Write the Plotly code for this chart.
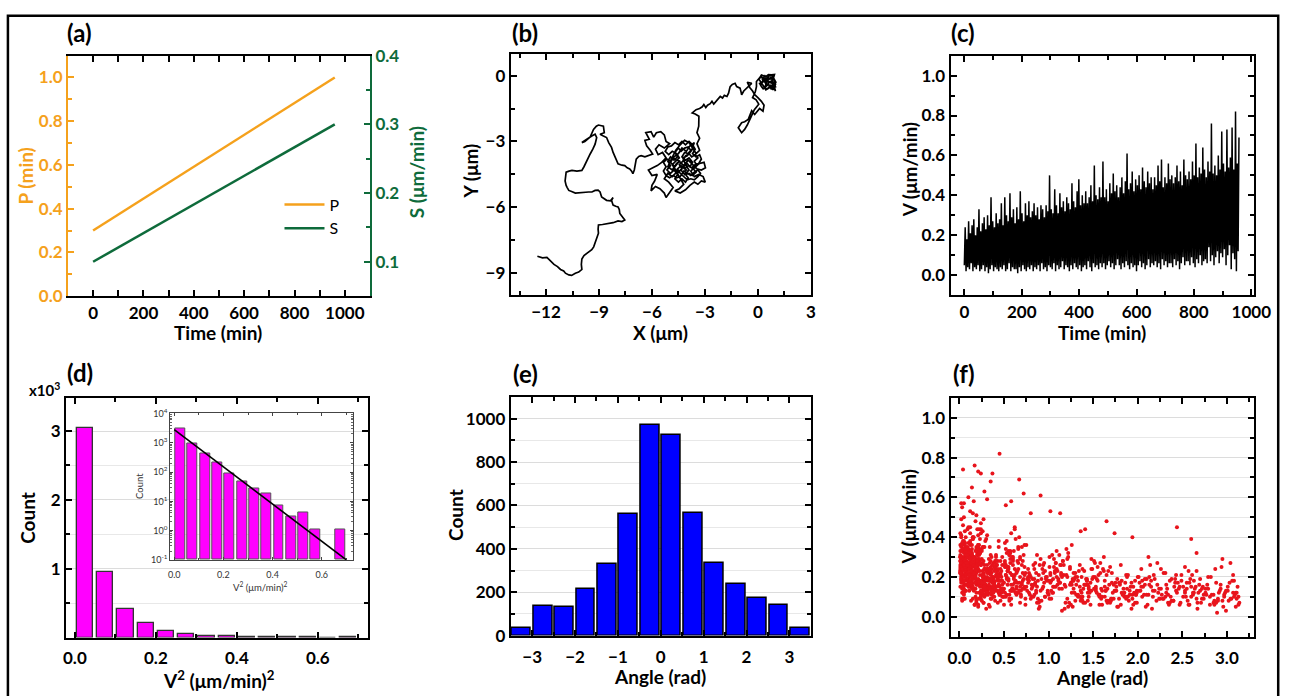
import plotly.graph_objects as go

W, H = 1309, 696
FONT = "Lato"
ORANGE = "#F5A11C"
GREEN = "#0E6B3B"

# ---------------- (a) ----------------
time_a = [0, 960]
P_vals = [0.30, 1.00]
S_vals = [0.10, 0.30]

# ---------------- (b) trajectory (x, y) in um ----------------
traj_left = [
    (-12.49, -8.23), (-12.2, -8.3), (-11.95, -8.28), (-11.83, -8.38), (-11.7, -8.45), (-11.55, -8.6),
    (-11.35, -8.7), (-11.18, -8.83), (-11.0, -8.9), (-10.9, -9.0), (-10.71, -9.08), (-10.55, -9.1),
    (-10.34, -9.0), (-10.15, -8.95), (-9.97, -8.83), (-10.0, -8.6), (-9.97, -8.35), (-9.85, -8.2),
    (-9.69, -8.1), (-9.41, -7.93), (-9.3, -7.8), (-9.22, -7.63), (-9.1, -7.4), (-9.03, -7.18),
    (-9.05, -7.0), (-9.03, -6.8), (-8.8, -6.78), (-8.47, -6.73), (-8.2, -6.7), (-7.92, -6.62),
    (-7.7, -6.65), (-7.54, -6.58), (-7.65, -6.45), (-7.82, -6.28), (-7.85, -6.1), (-7.92, -5.98),
    (-8.05, -5.95), (-8.2, -5.9), (-8.29, -5.68), (-8.2, -5.55), (-8.35, -5.7), (-8.57, -5.68),
    (-8.75, -5.6), (-8.85, -5.53), (-8.94, -5.3), (-9.05, -5.22), (-9.22, -5.23), (-9.4, -5.3),
    (-9.59, -5.3), (-9.9, -5.32), (-10.1, -5.35), (-10.34, -5.35), (-10.55, -5.28), (-10.71, -5.23),
    (-10.8, -5.1), (-10.86, -5.0), (-10.92, -4.8), (-10.9, -4.62), (-10.86, -4.4), (-10.7, -4.35),
    (-10.53, -4.32), (-10.25, -4.35), (-9.97, -4.32), (-9.85, -4.15), (-9.78, -4.02), (-9.65, -3.8),
    (-9.5, -3.57), (-9.35, -3.35), (-9.22, -3.12), (-9.13, -2.82), (-9.22, -2.67), (-9.41, -2.75),
    (-9.6, -2.85), (-9.78, -2.97), (-9.97, -3.05), (-9.8, -3.0), (-9.5, -2.8), (-9.31, -2.45),
    (-9.15, -2.3), (-9.03, -2.25), (-8.75, -2.3), (-8.7, -2.6), (-8.94, -2.67), (-8.75, -2.75),
    (-8.57, -2.82), (-8.45, -3.05), (-8.29, -3.27), (-8.2, -3.5), (-8.1, -3.72), (-8.0, -3.9),
    (-7.92, -4.02), (-7.7, -4.08), (-7.54, -4.1), (-7.4, -4.2), (-7.26, -4.25), (-7.15, -4.35),
    (-7.08, -4.47), (-7.0, -4.3), (-6.98, -4.17), (-6.93, -3.95), (-6.89, -3.8), (-6.75, -3.68),
    (-6.61, -3.65), (-6.4, -3.7), (-6.24, -3.65), (-5.96, -3.57),
]
traj_cluster = [
    (-6.1, -3.4), (-6.3, -3.2), (-6.4, -2.95), (-6.15, -2.9), (-6.35, -2.6), (-6.05, -2.55),
    (-5.9, -2.8), (-5.75, -2.6), (-5.5, -2.55), (-5.3, -2.7), (-5.2, -3.0), (-5.0, -3.1),
    (-5.3, -3.3), (-5.6, -3.15), (-5.8, -3.35), (-5.65, -3.6), (-5.4, -3.5), (-5.2, -3.75),
    (-5.45, -3.95), (-5.7, -4.1), (-5.95, -4.2), (-6.2, -4.3), (-6.0, -4.55), (-5.7, -4.5),
    (-5.85, -4.8), (-6.0, -5.0), (-6.05, -5.25), (-5.8, -5.05), (-5.55, -5.15), (-5.3, -5.35),
    (-5.2, -5.55), (-5.0, -5.3), (-4.8, -5.1), (-5.05, -4.85), (-5.3, -4.7), (-5.1, -4.45),
    (-4.85, -4.6), (-4.6, -4.4), (-4.4, -4.7), (-4.2, -4.95), (-4.45, -5.15), (-4.7, -5.25),
    (-4.4, -5.35), (-4.1, -5.2), (-3.85, -5.0), (-3.6, -4.85), (-3.4, -4.95), (-3.2, -4.8),
    (-2.98, -4.85), (-3.1, -4.6), (-3.35, -4.5), (-3.6, -4.6), (-3.8, -4.35), (-3.55, -4.15),
    (-3.3, -4.0), (-3.05, -3.95), (-2.97, -4.2), (-3.2, -4.3), (-3.45, -4.25), (-3.7, -4.05),
    (-3.95, -3.85), (-4.2, -4.1), (-4.45, -3.9), (-4.7, -4.15), (-4.95, -3.95), (-4.75, -3.7),
    (-4.5, -3.55), (-4.3, -3.3), (-4.05, -3.45), (-3.85, -3.2), (-3.6, -3.05), (-3.75, -3.4),
    (-4.0, -3.65), (-4.25, -3.75), (-4.1, -4.05), (-3.9, -4.3), (-4.15, -4.5), (-4.4, -4.25),
    (-4.25, -4.4), (-4.05, -4.3), (-4.2, -4.15), (-4.0, -4.0), (-3.85, -4.15), (-3.7, -3.95),
    (-3.9, -3.75), (-4.1, -3.85), (-4.3, -3.7), (-4.15, -3.5), (-3.95, -3.55), (-3.8, -3.4),
    (-3.95, -3.25), (-4.15, -3.3), (-4.35, -3.45), (-4.5, -3.3), (-4.7, -3.5), (-4.55, -3.7),
    (-4.75, -3.85), (-4.95, -3.7), (-5.1, -3.9), (-4.95, -4.1), (-5.15, -4.3), (-4.95, -4.45),
    (-4.75, -4.3), (-4.55, -4.5), (-4.7, -4.7), (-4.5, -4.85), (-4.3, -4.7), (-4.1, -4.85),
    (-3.95, -4.65), (-4.1, -4.5), (-3.9, -4.45), (-3.7, -4.55), (-3.5, -4.4), (-3.65, -4.25),
    (-3.45, -4.1), (-3.6, -3.9), (-3.4, -3.75), (-3.55, -3.6), (-3.75, -3.7), (-3.9, -3.55),
    (-4.1, -3.65), (-4.25, -3.9), (-4.45, -4.05), (-4.3, -4.25), (-4.5, -4.4), (-4.7, -4.25),
    (-4.85, -4.05), (-4.65, -3.9), (-4.45, -3.75), (-4.6, -3.55), (-4.85, -3.45), (-5.05, -3.6),
    (-5.25, -3.45), (-5.1, -3.25), (-4.9, -3.2), (-4.7, -3.05), (-4.5, -3.15), (-4.3, -3.0),
    (-4.1, -3.15), (-3.9, -3.0), (-3.7, -3.15), (-3.55, -3.35), (-3.7, -3.55), (-3.5, -3.7),
    (-3.3, -3.6), (-3.2, -3.8), (-3.35, -4.0), (-3.55, -4.05), (-3.75, -4.2), (-3.95, -4.1),
    (-4.15, -4.25), (-4.35, -4.1), (-4.55, -4.25), (-4.4, -4.45), (-4.2, -4.6), (-4.0, -4.75),
    (-3.8, -4.7), (-3.6, -4.75), (-3.4, -4.6), (-3.25, -4.45), (-3.4, -4.3), (-3.6, -4.4),
    (-3.8, -4.55), (-4.0, -4.45), (-4.2, -4.35), (-4.4, -4.6), (-4.6, -4.65), (-4.8, -4.55),
    (-5.0, -4.65), (-5.2, -4.55), (-5.35, -4.35), (-5.2, -4.15), (-5.35, -3.95), (-5.15, -3.8),
    (-4.95, -3.9), (-4.8, -3.75), (-4.6, -3.85), (-4.4, -3.9), (-4.6, -4.0), (-4.85, -4.3),
    (-5.1, -4.15), (-4.9, -3.8), (-4.65, -3.4), (-4.4, -3.15), (-4.15, -2.95), (-3.9, -3.05),
    (-3.7, -3.3), (-3.5, -3.55), (-3.3, -3.4), (-3.45, -3.1), (-3.3, -2.85), (-3.45, -2.6),
    (-3.35, -2.3),
]
traj_right = [
    (-3.34, -1.85), (-3.55, -1.75), (-3.72, -1.7), (-3.5, -1.55), (-3.3, -1.5), (-3.15, -1.42),
    (-3.06, -1.32), (-2.95, -1.45), (-2.85, -1.35), (-2.7, -1.28), (-2.6, -1.17), (-2.5, -1.3),
    (-2.4, -1.2), (-2.25, -1.05), (-2.13, -0.95), (-2.0, -1.02), (-1.9, -0.9), (-1.75, -0.95),
    (-1.66, -0.8), (-1.6, -0.6), (-1.57, -0.5), (-1.45, -0.4), (-1.29, -0.35), (-1.2, -0.5),
    (-1.01, -0.57), (-0.95, -0.75), (-0.92, -0.87), (-0.8, -0.7), (-0.64, -0.57), (-0.5, -0.45),
    (-0.35, -0.35), (-0.6, -0.3), (-0.45, -0.55), (-0.3, -0.7), (-0.18, -0.87), (0.0, -1.0),
    (0.2, -1.17), (0.35, -1.35), (0.29, -1.62), (0.1, -1.5), (-0.18, -1.77), (-0.35, -1.6),
    (-0.55, -2.0), (-0.75, -2.1), (-0.92, -2.15), (-1.11, -2.37), (-0.92, -2.6), (-0.75, -2.45),
    (-0.6, -2.25), (-0.4, -1.9), (-0.2, -1.55), (0.05, -1.3), (-0.1, -1.1), (-0.3, -1.0),
    (-0.15, -0.75), (-0.08, -0.5), (-0.08, -0.27), (0.1, -0.1), (0.2, 0.03), (0.45, -0.05),
    (0.6, 0.05), (0.76, 0.03), (0.94, 0.05), (0.85, -0.2), (0.94, -0.2), (1.0, -0.4),
    (0.85, -0.65), (0.7, -0.45), (0.55, -0.6), (0.38, -0.57), (0.5, -0.3), (0.3, -0.25),
    (0.15, -0.45), (0.35, -0.1), (0.6, -0.2), (0.75, -0.05), (0.95, -0.5), (1.0, -0.7),
    (0.9, -0.55), (0.8, -0.35), (0.65, -0.3), (0.5, -0.45), (0.4, -0.3), (0.25, -0.15),
    (0.4, 0.0), (0.55, -0.1), (0.7, -0.15), (0.85, -0.05), (0.95, -0.25), (0.8, -0.45),
    (0.65, -0.55), (0.45, -0.65), (0.3, -0.45), (0.15, -0.3), (0.05, -0.15), (0.2, -0.05),
    (0.35, -0.2), (0.5, -0.15), (0.65, 0.0), (0.8, 0.02), (0.9, -0.1), (1.02, -0.3),
    (0.9, -0.45), (0.75, -0.6), (0.6, -0.4), (0.45, -0.5), (0.3, -0.6), (0.2, -0.5),
    (0.1, -0.35), (0.25, -0.3), (0.45, -0.2), (0.6, -0.3), (0.75, -0.25), (0.9, -0.35),
    (1.02, -0.55),
]

# ---------------- (c) speed vs time: alternating local minima / maxima ----------------
c_step_min = 3
v_highs = [
    0.24, 0.18, 0.27, 0.21, 0.25, 0.28, 0.20, 0.24, 0.33, 0.22,
    0.26, 0.29, 0.23, 0.30, 0.25, 0.39, 0.27, 0.24, 0.31, 0.26,
    0.28, 0.36, 0.25, 0.39, 0.30, 0.27, 0.41, 0.29, 0.33, 0.26,
    0.34, 0.28, 0.42, 0.31, 0.27, 0.36, 0.30, 0.37, 0.29, 0.32,
    0.36, 0.30, 0.34, 0.28, 0.35, 0.33, 0.29, 0.35, 0.32, 0.50,
    0.33, 0.31, 0.43, 0.35, 0.31, 0.41, 0.34, 0.37, 0.32, 0.39,
    0.36, 0.33, 0.46, 0.37, 0.34, 0.42, 0.48, 0.35, 0.40, 0.36,
    0.42, 0.36, 0.39, 0.45, 0.37, 0.55, 0.40, 0.38, 0.44, 0.39,
    0.57, 0.39, 0.43, 0.37, 0.46, 0.41, 0.51, 0.42, 0.45, 0.39,
    0.44, 0.49, 0.41, 0.47, 0.61, 0.43, 0.46, 0.52, 0.42, 0.48,
    0.45, 0.50, 0.43, 0.54, 0.47, 0.44, 0.52, 0.46, 0.49, 0.43,
    0.49, 0.45, 0.55, 0.47, 0.58, 0.44, 0.49, 0.46, 0.56, 0.48,
    0.50, 0.46, 0.49, 0.55, 0.47, 0.52, 0.45, 0.58, 0.50, 0.48,
    0.52, 0.48, 0.57, 0.50, 0.66, 0.49, 0.54, 0.51, 0.64, 0.53,
    0.49, 0.57, 0.52, 0.76, 0.51, 0.55, 0.50, 0.60, 0.53, 0.72,
    0.56, 0.52, 0.73, 0.54, 0.59, 0.74, 0.53, 0.82, 0.56, 0.69,
]
v_lows = [
    0.05, 0.02, 0.04, 0.03, 0.06, 0.02, 0.04, 0.03, 0.05, 0.02,
    0.03, 0.05, 0.02, 0.04, 0.01, 0.03, 0.05, 0.02, 0.04, 0.03,
    0.02, 0.04, 0.03, 0.05, 0.02, 0.03, 0.06, 0.02, 0.04, 0.03,
    0.03, 0.01, 0.04, 0.02, 0.05, 0.03, 0.02, 0.04, 0.03, 0.05,
    0.02, 0.04, 0.03, 0.05, 0.02, 0.06, 0.03, 0.04, 0.02, 0.05,
    0.04, 0.03, 0.06, 0.02, 0.05, 0.03, 0.04, 0.07, 0.03, 0.05,
    0.04, 0.02, 0.05, 0.03, 0.06, 0.04, 0.03, 0.05, 0.02, 0.04,
    0.05, 0.03, 0.07, 0.04, 0.02, 0.06, 0.04, 0.05, 0.03, 0.06,
    0.04, 0.06, 0.03, 0.05, 0.07, 0.04, 0.06, 0.03, 0.05, 0.08,
    0.05, 0.03, 0.06, 0.04, 0.07, 0.05, 0.03, 0.06, 0.04, 0.05,
    0.02, 0.05, 0.07, 0.04, 0.06, 0.03, 0.05, 0.08, 0.04, 0.06,
    0.05, 0.07, 0.04, 0.06, 0.03, 0.08, 0.05, 0.07, 0.04, 0.06,
    0.06, 0.04, 0.08, 0.05, 0.07, 0.03, 0.06, 0.09, 0.05, 0.07,
    0.07, 0.05, 0.09, 0.06, 0.04, 0.08, 0.06, 0.10, 0.05, 0.07,
    0.08, 0.06, 0.14, 0.07, 0.10, 0.05, 0.09, 0.12, 0.06, 0.11,
    0.09, 0.13, 0.05, 0.10, 0.15, 0.03, 0.11, 0.08, 0.02, 0.12,
]

# ---------------- (d) V^2 histogram ----------------
v2_centers = [0.025, 0.075, 0.125, 0.175, 0.225, 0.275, 0.325, 0.375, 0.425, 0.475, 0.525, 0.575, 0.625, 0.675]
v2_counts = [3050, 950, 415, 205, 89, 46, 27, 18, 7, 3, 4, 1, 0, 1]
fit_x = [0.0, 0.70]
fit_y = [2800, 0.1]

# ---------------- (e) angle histogram ----------------
angle_centers = [-3.25, -2.75, -2.25, -1.75, -1.25, -0.75, -0.25, 0.25, 0.75, 1.25, 1.75, 2.25, 2.75, 3.25]
angle_counts = [35, 137, 133, 216, 330, 560, 972, 925, 567, 333, 240, 175, 143, 35]

# ---------------- (f) speed vs |angle| scatter ----------------
fA_x = [0.02,0.11,0.27,0.05,0.38,0.16,0.44,0.08,0.21,0.33, 0.03,0.19,0.47,0.12,0.29,0.06,0.36,0.24,0.14,0.41,
        0.01,0.09,0.31,0.18,0.49,0.04,0.26,0.13,0.39,0.22, 0.07,0.34,0.15,0.02,0.43,0.28,0.10,0.20,0.46,0.05,
        0.17,0.37,0.03,0.25,0.12,0.48,0.08,0.30,0.19,0.40, 0.01,0.23,0.14,0.35,0.06,0.42,0.27,0.09,0.32,0.18,
        0.04,0.45,0.21,0.13,0.38,0.02,0.26,0.16,0.50,0.07, 0.29,0.11,0.36,0.05,0.22,0.44,0.15,0.03,0.33,0.24,
        0.10,0.40,0.18,0.01,0.28,0.07,0.47,0.20,0.35,0.12, 0.03,0.25,0.39,0.14,0.06,0.31,0.21,0.43,0.09,0.17,
        0.02,0.34,0.12,0.27,0.46,0.05,0.19,0.37,0.08,0.23, 0.15,0.01,0.30,0.41,0.11,0.04,0.26,0.49,0.17,0.06,
        0.36,0.22,0.02,0.13,0.44,0.08,0.32,0.18,0.03,0.28, 0.10,0.39,0.05,0.24,0.15,0.47,0.01,0.20,0.34,0.12,
        0.07,0.29,0.42,0.03,0.16,0.37,0.23,0.09,0.45,0.02, 0.19,0.06,0.33,0.14,0.26,0.04,0.40,0.11,0.21,0.48,
        0.01,0.31,0.17,0.08,0.38,0.25,0.13,0.03,0.43,0.22, 0.05,0.35,0.10,0.28,0.02,0.46,0.18,0.07,0.30,0.14,
        0.24,0.04,0.41,0.12,0.20,0.06,0.36,0.27,0.01,0.16, 0.09,0.32,0.03,0.44,0.19,0.11,0.26,0.05,0.39,0.23,
        0.02,0.15,0.29,0.08,0.48,0.34,0.13,0.21,0.04,0.37, 0.18,0.06,0.42,0.25,0.01,0.10,0.31,0.45,0.14,0.03,
        0.27,0.07,0.19,0.35,0.12,0.02,0.40,0.22,0.09,0.30]
fA_v = [0.18,0.31,0.22,0.09,0.27,0.14,0.35,0.24,0.41,0.19, 0.27,0.12,0.20,0.38,0.16,0.29,0.11,0.47,0.23,0.30,
        0.15,0.44,0.26,0.21,0.13,0.33,0.18,0.08,0.25,0.36, 0.22,0.14,0.52,0.40,0.28,0.10,0.17,0.32,0.21,0.57,
        0.26,0.19,0.12,0.34,0.45,0.16,0.23,0.39,0.07,0.28, 0.31,0.21,0.16,0.12,0.37,0.26,0.49,0.19,0.15,0.24,
        0.46,0.18,0.29,0.24,0.10,0.20,0.35,0.58,0.14,0.13, 0.11,0.21,0.30,0.26,0.17,0.38,0.09,0.36,0.22,0.44,
        0.33,0.15,0.27,0.42,0.20,0.18,0.12,0.25,0.31,0.53, 0.08,0.29,0.17,0.14,0.24,0.41,0.36,0.23,0.19,0.06,
        0.35,0.27,0.22,0.13,0.28,0.50,0.16,0.20,0.31,0.15, 0.40,0.23,0.19,0.31,0.18,0.12,0.43,0.10,0.28,0.37,
        0.24,0.34,0.29,0.17,0.21,0.26,0.14,0.48,0.20,0.11, 0.19,0.27,0.38,0.09,0.30,0.23,0.25,0.16,0.35,0.42,
        0.13,0.18,0.26,0.55,0.20,0.12,0.32,0.27,0.15,0.22, 0.29,0.43,0.19,0.36,0.11,0.17,0.24,0.21,0.05,0.30,
        0.36,0.13,0.23,0.30,0.20,0.33,0.15,0.26,0.18,0.09, 0.12,0.25,0.34,0.18,0.49,0.22,0.28,0.40,0.14,0.31,
        0.17,0.21,0.28,0.26,0.44,0.16,0.13,0.35,0.23,0.20, 0.30,0.24,0.37,0.12,0.18,0.15,0.27,0.32,0.10,0.39,
        0.25,0.40,0.16,0.21,0.14,0.23,0.30,0.06,0.34,0.19, 0.14,0.28,0.22,0.17,0.33,0.45,0.20,0.13,0.26,0.24,
        0.21,0.16,0.51,0.28,0.36,0.19,0.25,0.12,0.30,0.04]
fA2_x = [0.06,0.14,0.23,0.31,0.04,0.19,0.27,0.10,0.35,0.01, 0.16,0.25,0.08,0.42,0.13,0.29,0.03,0.21,0.38,0.11,
         0.05,0.33,0.18,0.24,0.46,0.09,0.15,0.28,0.02,0.36, 0.20,0.07,0.41,0.12,0.26,0.32,0.04,0.17,0.44,0.22,
         0.10,0.30,0.01,0.37,0.14,0.06,0.25,0.48,0.19,0.03, 0.34,0.09,0.23,0.15,0.40,0.28,0.05,0.12,0.31,0.20,
         0.02,0.43,0.17,0.26,0.08,0.35,0.13,0.22,0.04,0.39, 0.29,0.11,0.18,0.06,0.45,0.24,0.01,0.33,0.15,0.27,
         0.09,0.37,0.21,0.03,0.14,0.30,0.07,0.42,0.19,0.25, 0.12,0.05,0.34,0.23,0.16,0.47,0.02,0.28,0.10,0.38,
         0.55,0.62,0.58,0.66,0.53,0.70,0.60,0.57,0.64,0.51, 0.68,0.56,0.61,0.54,0.73,0.59,0.52,0.65,0.57,0.63,
         0.04,0.13,0.22,0.08,0.30,0.17,0.01,0.26,0.11,0.36, 0.19,0.06,0.24,0.15,0.33,0.03,0.28,0.09,0.41,0.20,
         0.12,0.02,0.35,0.18,0.07,0.27,0.14,0.44,0.05,0.23, 0.31,0.10,0.16,0.01,0.39,0.21,0.08,0.29,0.13,0.04,
         0.25,0.18,0.06,0.34,0.11,0.22,0.03,0.15,0.37,0.09, 0.27,0.02,0.19,0.32,0.07,0.14,0.24,0.05,0.40,0.12,
         0.17,0.30,0.01,0.21,0.10,0.26,0.04,0.35,0.16,0.08, 0.23,0.13,0.43,0.06,0.28,0.19,0.02,0.11,0.33,0.20]
fA2_v = [0.21,0.17,0.28,0.13,0.34,0.24,0.19,0.30,0.15,0.22, 0.26,0.12,0.32,0.20,0.27,0.16,0.23,0.36,0.18,0.25,
         0.14,0.29,0.21,0.11,0.24,0.33,0.19,0.26,0.17,0.22, 0.31,0.20,0.15,0.27,0.23,0.18,0.38,0.25,0.16,0.29,
         0.19,0.24,0.28,0.13,0.32,0.21,0.17,0.26,0.35,0.14, 0.22,0.27,0.18,0.39,0.15,0.24,0.30,0.20,0.12,0.26,
         0.33,0.19,0.23,0.16,0.28,0.21,0.25,0.31,0.17,0.23, 0.14,0.29,0.20,0.36,0.18,0.26,0.22,0.15,0.30,0.19,
         0.24,0.17,0.27,0.21,0.34,0.13,0.25,0.20,0.28,0.16, 0.30,0.23,0.18,0.32,0.26,0.14,0.21,0.24,0.37,0.19,
         0.18,0.24,0.13,0.27,0.20,0.16,0.29,0.22,0.11,0.25, 0.15,0.31,0.19,0.23,0.14,0.21,0.26,0.17,0.33,0.12,
         0.28,0.22,0.16,0.25,0.19,0.30,0.24,0.13,0.27,0.18, 0.34,0.20,0.26,0.15,0.22,0.29,0.17,0.24,0.21,0.31,
         0.16,0.27,0.23,0.19,0.35,0.14,0.25,0.20,0.28,0.18, 0.22,0.32,0.13,0.26,0.17,0.24,0.30,0.19,0.21,0.27,
         0.15,0.23,0.29,0.18,0.25,0.34,0.20,0.26,0.14,0.22, 0.28,0.19,0.17,0.24,0.31,0.21,0.16,0.27,0.13,0.25,
         0.20,0.14,0.30,0.23,0.18,0.12,0.26,0.19,0.28,0.24, 0.17,0.33,0.21,0.25,0.15,0.22,0.29,0.18,0.16,0.27]
fG_x = [0.03,0.18,0.41,0.09,0.27,0.55,0.13,0.36,0.02,0.22, 0.48,0.07,0.31,0.16,0.62,0.25,0.04,0.39,0.11,0.20,
        0.58,0.06,0.33,0.14,0.45,0.01,0.28,0.19,0.71,0.10, 0.37,0.05,0.24,0.52,0.15,0.03,0.43,0.30,0.08,0.66,
        0.21,0.12,0.35,0.02,0.49,0.26,0.17,0.77,0.06,0.32, 0.14,0.40,0.23,0.04,0.59,0.11,0.29,0.18,0.84,0.07,
        0.38,0.01,0.25,0.46,0.13,0.34,0.09,0.53,0.20,0.05, 0.68,0.27,0.15,0.42,0.03,0.22,0.36,0.10,0.61,0.18,
        0.06,0.31,0.47,0.12,0.24,0.02,0.39,0.16,0.74,0.08, 0.28,0.50,0.14,0.33,0.05,0.21,0.44,0.11,0.57,0.26,
        0.01,0.37,0.19,0.09,0.64,0.30,0.15,0.04,0.41,0.23, 0.81,0.12,0.35,0.07,0.27,0.54,0.18,0.02,0.45,0.32,
        0.10,0.69,0.22,0.06,0.38,0.14,0.51,0.26,0.03,0.90, 0.17,0.43,0.08,0.29,0.60,0.20,0.11,0.34,0.05,0.48,
        0.24,0.96,0.13,0.39,0.01,0.56,0.21,0.08,0.31,0.73]
fG_v = [0.09,0.23,0.15,0.31,0.07,0.19,0.27,0.12,0.36,0.17, 0.10,0.25,0.14,0.40,0.21,0.08,0.29,0.18,0.13,0.33,
        0.16,0.24,0.06,0.20,0.11,0.28,0.35,0.09,0.22,0.15, 0.26,0.13,0.42,0.10,0.19,0.30,0.07,0.23,0.16,0.12,
        0.34,0.18,0.09,0.25,0.14,0.21,0.06,0.17,0.28,0.11, 0.20,0.08,0.32,0.15,0.13,0.24,0.38,0.10,0.19,0.27,
        0.12,0.22,0.17,0.08,0.29,0.14,0.35,0.11,0.26,0.18, 0.07,0.21,0.30,0.13,0.24,0.44,0.09,0.16,0.20,0.33,
        0.25,0.12,0.18,0.37,0.10,0.27,0.15,0.22,0.09,0.31, 0.14,0.06,0.28,0.19,0.11,0.35,0.16,0.24,0.13,0.21,
        0.30,0.17,0.08,0.26,0.14,0.12,0.39,0.20,0.15,0.23, 0.10,0.29,0.18,0.33,0.07,0.16,0.25,0.41,0.11,0.19,
        0.22,0.13,0.27,0.09,0.15,0.31,0.12,0.20,0.36,0.08, 0.17,0.24,0.34,0.11,0.14,0.28,0.21,0.05,0.26,0.18,
        0.13,0.10,0.23,0.16,0.30,0.09,0.19,0.27,0.12,0.15]
fB_x = [0.52,0.71,0.88,0.60,0.95,0.55,0.79,0.66,0.92,0.58, 0.83,0.63,0.99,0.51,0.74,0.87,0.68,0.56,0.93,0.77,
        0.61,0.85,0.53,0.70,0.96,0.64,0.81,0.57,0.90,0.73, 0.54,0.78,0.67,0.98,0.59,0.86,0.72,0.62,0.94,0.50,
        0.76,0.89,0.65,0.53,0.82,0.97,0.69,0.57,0.84,0.75, 0.60,0.91,0.52,0.80,0.66,0.99,0.71,0.55,0.87,0.63,
        0.78,0.58,0.93,0.68,0.51,0.85,0.74,0.96,0.61,0.82, 0.56,0.70,0.89,0.64,0.53,0.77,0.92,0.59,0.83,0.67,
        0.95,0.72,0.54,0.86,0.62,0.79,0.50,0.90,0.69,0.57, 0.81,0.65,0.98,0.73,0.58,0.88,0.52,0.76,0.94,0.63,
        0.70,0.55,0.84,0.60,0.97,0.75,0.51,0.87,0.66,0.80, 0.54,0.91,0.68,0.78,0.59,0.85,0.62,0.99,0.73,0.56,
        0.83,0.64,0.94,0.71,0.52,0.89,0.77,0.60,0.86,0.67]
fB_v = [0.21,0.14,0.09,0.28,0.17,0.33,0.11,0.24,0.19,0.06, 0.26,0.18,0.12,0.37,0.22,0.15,0.30,0.08,0.24,0.20,
        0.13,0.27,0.19,0.35,0.10,0.23,0.16,0.29,0.05,0.21, 0.25,0.12,0.40,0.18,0.14,0.22,0.31,0.17,0.26,0.10,
        0.19,0.07,0.23,0.32,0.15,0.20,0.11,0.27,0.24,0.36, 0.16,0.29,0.21,0.09,0.34,0.13,0.18,0.25,0.31,0.12,
        0.22,0.42,0.14,0.20,0.28,0.17,0.06,0.23,0.33,0.19, 0.11,0.26,0.21,0.15,0.38,0.24,0.08,0.30,0.16,0.13,
        0.27,0.19,0.23,0.12,0.45,0.21,0.17,0.26,0.10,0.32, 0.14,0.28,0.20,0.36,0.09,0.18,0.25,0.13,0.22,0.39,
        0.17,0.24,0.11,0.30,0.19,0.15,0.27,0.07,0.35,0.20, 0.23,0.13,0.29,0.18,0.21,0.16,0.44,0.12,0.25,0.31,
        0.10,0.22,0.15,0.28,0.34,0.04,0.19,0.26,0.13,0.17]
fC_x = [1.03,1.21,1.38,1.12,1.47,1.06,1.29,1.17,1.42,1.09, 1.33,1.01,1.25,1.44,1.14,1.36,1.08,1.27,1.49,1.19,
        1.04,1.31,1.15,1.40,1.23,1.10,1.46,1.35,1.02,1.18, 1.28,1.43,1.07,1.22,1.37,1.13,1.48,1.26,1.05,1.32,
        1.16,1.41,1.24,1.00,1.34,1.11,1.45,1.20,1.39,1.06, 1.30,1.14,1.47,1.03,1.26,1.37,1.09,1.22,1.43,1.17,
        1.35,1.01,1.28,1.12,1.48,1.19,1.05,1.40,1.24,1.33, 1.08,1.45,1.15,1.30,1.02,1.38,1.21,1.10,1.44,1.27]
fC_v = [0.18,0.09,0.24,0.14,0.06,0.29,0.12,0.21,0.16,0.33, 0.10,0.25,0.17,0.08,0.22,0.13,0.27,0.05,0.19,0.15,
        0.31,0.11,0.20,0.23,0.07,0.16,0.13,0.26,0.21,0.04, 0.14,0.18,0.22,0.30,0.09,0.17,0.24,0.12,0.15,0.20,
        0.28,0.07,0.16,0.11,0.23,0.19,0.10,0.34,0.14,0.25, 0.08,0.21,0.17,0.13,0.36,0.12,0.20,0.05,0.18,0.26,
        0.15,0.09,0.22,0.31,0.13,0.07,0.19,0.16,0.24,0.11, 0.27,0.14,0.03,0.20,0.17,0.10,0.29,0.23,0.12,0.18]
fH_x = [1.05,1.37,1.68,1.12,1.91,1.24,1.53,1.81,1.02,1.44, 1.73,1.16,1.60,1.29,1.97,1.08,1.49,1.85,1.33,1.64,
        1.20,1.77,1.41,1.01,1.56,1.88,1.27,1.70,1.14,1.46, 1.93,1.35,1.62,1.06,1.79,1.52,1.22,1.99,1.39,1.11,
        1.66,1.30,1.84,1.18,1.58,1.03,1.75,1.43,1.25,1.95, 1.09,1.54,1.71,1.36,1.87,1.15,1.63,1.48,1.00,1.82,
        1.31,1.69,1.21,1.94,1.45,1.07,1.59,1.76,1.28,1.89, 1.13,1.51,1.38,1.80,1.04,1.65,1.26,1.98,1.42,1.57]
fH_v = [0.12,0.20,0.08,0.17,0.11,0.25,0.14,0.06,0.22,0.16, 0.09,0.28,0.13,0.19,0.07,0.15,0.24,0.10,0.18,0.13,
        0.21,0.05,0.16,0.30,0.11,0.14,0.19,0.08,0.26,0.12, 0.17,0.10,0.23,0.15,0.09,0.20,0.32,0.13,0.07,0.18,
        0.14,0.22,0.11,0.16,0.27,0.09,0.13,0.19,0.06,0.15, 0.24,0.12,0.17,0.08,0.21,0.14,0.10,0.29,0.18,0.12,
        0.16,0.07,0.20,0.11,0.15,0.23,0.09,0.13,0.18,0.10, 0.26,0.14,0.08,0.17,0.12,0.21,0.16,0.11,0.19,0.06]
fD_x = [1.52,1.71,1.88,1.60,1.96,1.55,1.79,1.66,1.92,1.58, 1.83,1.63,1.99,1.51,1.74,1.87,1.68,1.56,1.93,1.77,
        1.61,1.85,1.53,1.70,1.97,1.64,1.81,1.57,1.90,1.73, 1.54,1.78,1.67,1.98,1.59,1.86,1.72,1.62,1.94,1.50,
        1.76,1.89,1.65,1.53,1.82,1.95,1.69,1.57,1.84,1.75, 1.60,1.91,1.52,1.80,1.66,1.99,1.71,1.55,1.87,1.63]
fD_v = [0.14,0.09,0.20,0.06,0.12,0.25,0.17,0.08,0.15,0.22, 0.11,0.18,0.07,0.28,0.13,0.10,0.16,0.21,0.04,0.19,
        0.24,0.12,0.15,0.09,0.18,0.13,0.26,0.10,0.08,0.16, 0.19,0.05,0.23,0.11,0.14,0.17,0.12,0.30,0.09,0.20,
        0.15,0.21,0.08,0.13,0.18,0.06,0.25,0.11,0.14,0.17, 0.10,0.13,0.27,0.16,0.07,0.12,0.22,0.18,0.09,0.15]
fE_x = [2.03,2.21,2.38,2.12,2.47,2.06,2.29,2.17,2.42,2.09, 2.33,2.01,2.25,2.44,2.14,2.36,2.08,2.27,2.49,2.19,
        2.04,2.31,2.15,2.40,2.23,2.10,2.46,2.35,2.02,2.18, 2.28,2.43,2.07,2.22,2.37,2.13,2.48,2.26,2.05,2.32,
        2.16,2.41,2.24,2.00,2.34]
fE_v = [0.13,0.08,0.19,0.11,0.06,0.15,0.22,0.10,0.17,0.05, 0.14,0.20,0.09,0.12,0.26,0.07,0.16,0.11,0.18,0.13,
        0.24,0.10,0.15,0.08,0.12,0.19,0.14,0.06,0.17,0.21, 0.09,0.13,0.11,0.27,0.10,0.16,0.07,0.14,0.18,0.12,
        0.04,0.15,0.09,0.20,0.11]
fF_x = [2.53,2.71,2.88,2.60,2.96,2.55,2.79,2.66,2.92,2.58, 2.83,2.63,2.99,2.51,2.74,2.87,2.68,2.56,2.93,2.77,
        2.61,2.85,2.53,2.70,2.97,2.64,2.81,2.57,2.90,2.73, 3.02,3.10,3.06,3.13,3.04,3.08,3.12,3.01,3.14,3.07,
        2.54,2.78,2.67,2.98,2.59,2.86,2.72,2.62,2.94,3.11, 3.03,2.76,2.89,3.09,2.65]
fF_v = [0.12,0.07,0.17,0.10,0.05,0.14,0.20,0.09,0.13,0.06, 0.11,0.18,0.03,0.15,0.09,0.24,0.12,0.08,0.16,0.11,
        0.21,0.07,0.13,0.19,0.10,0.14,0.06,0.23,0.09,0.15, 0.08,0.12,0.18,0.06,0.27,0.10,0.15,0.13,0.07,0.21,
        0.10,0.16,0.04,0.12,0.19,0.08,0.14,0.11,0.25,0.09, 0.17,0.12,0.02,0.11,0.15]
fI_x = [2.05,2.47,2.88,2.19,2.63,3.04,2.31,2.76,2.11,2.55, 2.97,2.38,2.82,2.02,2.69,3.10,2.26,2.51,2.93,2.15,
        2.72,2.43,3.07,2.34,2.60,2.85,2.08,2.99,2.40,2.66, 2.22,3.13,2.57,2.79,2.13,2.91,2.45,2.29,3.01,2.74,
        2.17,2.53,2.95,2.36,2.81,2.04,2.67,3.11,2.49,2.24, 2.86,2.58,2.10,3.05,2.42,2.70,2.32,2.90,2.62,3.08]
fI_v = [0.10,0.15,0.07,0.19,0.12,0.09,0.22,0.14,0.06,0.17, 0.11,0.08,0.20,0.13,0.16,0.05,0.24,0.10,0.14,0.18,
        0.09,0.21,0.12,0.07,0.15,0.11,0.19,0.13,0.08,0.23, 0.16,0.10,0.06,0.14,0.20,0.12,0.17,0.09,0.15,0.11,
        0.13,0.25,0.08,0.18,0.10,0.15,0.07,0.12,0.21,0.14, 0.06,0.17,0.11,0.09,0.19,0.13,0.16,0.08,0.12,0.18]
fOut_x = [0.04,0.17,0.21,0.24,0.37,0.45,0.67,0.72,0.91,0.14,0.35,0.58,1.02,1.13,1.65,2.44,2.60,2.66,1.94,1.74,
          1.41,1.36,2.12,2.95,0.10,0.28,0.52,0.80,0.02,0.31]
fOut_v = [0.74,0.76,0.73,0.72,0.72,0.82,0.69,0.62,0.61,0.65,0.68,0.58,0.53,0.52,0.48,0.45,0.39,0.32,0.40,0.42,
          0.44,0.43,0.30,0.29,0.60,0.63,0.56,0.52,0.57,0.59]


# ---------------- helpers ----------------
def dom_x(p0, p1):
    return [p0 / W, p1 / W]


def dom_y(top, bottom):
    return [1 - bottom / H, 1 - top / H]


TICK_SIZE = 17
TITLE_SIZE = 19


def tfont(size=TICK_SIZE, color="black", bold=True):
    d = dict(family=FONT, size=size, color=color)
    if bold:
        d["weight"] = "bold"
    return d


def axis(domain, rng, dtick, minor, anchor, tick0=0, color="black", mirror="allticks",
         fmt=None, grid=False, **kw):
    d = dict(
        domain=domain, range=rng, anchor=anchor, tick0=tick0, dtick=dtick,
        showline=True, linecolor=color, linewidth=2, mirror=mirror,
        ticks="inside", ticklen=6, tickwidth=1.5, tickcolor=color,
        minor=dict(dtick=minor, tick0=tick0, ticks="inside", ticklen=4, tickwidth=1.5, tickcolor=color,
                   showgrid=grid, gridcolor="#e8e8e8", gridwidth=1),
        showgrid=grid, gridcolor="#dcdcdc", gridwidth=1, zeroline=False,
        tickfont=tfont(TICK_SIZE, color),
    )
    if fmt:
        d["tickformat"] = fmt
    d.update(kw)
    return d


fig = go.Figure()

# (a)
fig.add_trace(go.Scatter(x=time_a, y=P_vals, mode="lines", name="P",
                         line=dict(color=ORANGE, width=2.5), xaxis="x", yaxis="y"))
fig.add_trace(go.Scatter(x=time_a, y=S_vals, mode="lines", name="S",
                         line=dict(color=GREEN, width=2.5), xaxis="x", yaxis="y2"))

# (b)
traj_xy = traj_left + traj_cluster + traj_right
fig.add_trace(go.Scatter(x=[p[0] for p in traj_xy], y=[p[1] for p in traj_xy], mode="lines",
                         line=dict(color="black", width=1.7), showlegend=False, xaxis="x2", yaxis="y3"))

# (c)
n_c = min(len(v_highs), len(v_lows))
v_series = []
for lo, hi in zip(v_lows[:n_c], v_highs[:n_c]):
    v_series += [lo, hi]
t_series = [c_step_min * i for i in range(len(v_series))]
fig.add_trace(go.Scatter(x=t_series, y=v_series, mode="lines",
                         line=dict(color="black", width=1.5), showlegend=False, xaxis="x3", yaxis="y4"))

# (d) main histogram
fig.add_trace(go.Bar(x=v2_centers, y=v2_counts, width=0.04,
                     marker=dict(color="#FF00FF", line=dict(color="#333333", width=1.3)),
                     showlegend=False, xaxis="x4", yaxis="y5"))
# (d) inset (log)
inset_counts = [c if c > 0 else None for c in v2_counts]
fig.add_trace(go.Bar(x=v2_centers, y=inset_counts, width=0.04, base=0.1,
                     marker=dict(color="#FF00FF", line=dict(color="#555555", width=1)),
                     showlegend=False, xaxis="x5", yaxis="y6"))
fig.add_trace(go.Scatter(x=fit_x, y=fit_y, mode="lines", line=dict(color="black", width=1.6),
                         showlegend=False, xaxis="x5", yaxis="y6"))

# (e)
fig.add_trace(go.Bar(x=angle_centers, y=angle_counts, width=0.44,
                     marker=dict(color="#0000FF", line=dict(color="black", width=1.5)),
                     showlegend=False, xaxis="x6", yaxis="y7"))

# (f)
fx = fA_x + fA2_x + fG_x + fB_x + fC_x + fH_x + fD_x + fE_x + fF_x + fI_x + fOut_x
fv = fA_v + fA2_v + fG_v + fB_v + fC_v + fH_v + fD_v + fE_v + fF_v + fI_v + fOut_v
n_f = min(len(fx), len(fv))
fig.add_trace(go.Scatter(x=fx[:n_f], y=fv[:n_f], mode="markers",
                         marker=dict(color="#E8141C", size=4, line=dict(width=0)),
                         showlegend=False, xaxis="x7", yaxis="y8"))

layout = dict(
    width=W, height=H, margin=dict(l=0, r=0, t=0, b=0),
    paper_bgcolor="white", plot_bgcolor="rgba(0,0,0,0)",
    font=dict(family=FONT, color="black"),
    bargap=0,
    legend=dict(x=281 / W, y=1 - 182 / H, xanchor="left", yanchor="top",
                font=dict(family=FONT, size=16, color="black"), bgcolor="rgba(0,0,0,0)",
                tracegroupgap=0, itemwidth=40),
    # (a)
    xaxis=axis(dom_x(66, 373), [-100, 1100], 200, 100, "y"),
    yaxis=axis(dom_y(46, 294), [0, 1.1], 0.2, 0.1, "x", color=ORANGE, mirror=False, fmt=".1f"),
    yaxis2=axis(dom_y(46, 294), [0.05, 0.4], 0.1, 0.05, "x", tick0=0.1, color=GREEN,
                mirror=False, fmt=".1f", overlaying="y", side="right"),
    # (b)
    xaxis2=axis(dom_x(516, 821), [-14, 3], 3, 1.5, "y3"),
    yaxis3=axis(dom_y(44, 293), [-10, 1], 3, 1.5, "x2"),
    # (c)
    xaxis3=axis(dom_x(963, 1271), [-48, 1008], 200, 100, "y4"),
    yaxis4=axis(dom_y(46, 293), [-0.1, 1.1], 0.2, 0.1, "x3", fmt=".1f"),
    # (d)
    xaxis4=axis(dom_x(64, 371), [-0.022, 0.724], 0.2, 0.1, "y5", fmt=".1f", ticklabelstandoff=4),
    yaxis5=axis(dom_y(399, 646), [0, 3480], None, 500, "x4", grid=True, tickmode="array",
                tickvals=[0, 1000, 2000, 3000], ticktext=["", "1", "2", "3"]),
    # (e)
    xaxis6=axis(dom_x(516, 821), [-3.5, 3.5], 1, 0.5, "y7", ticklabelstandoff=5),
    yaxis7=axis(dom_y(398, 644), [0, 1100], 200, 100, "x6", grid=True),
    # (f)
    xaxis7=axis(dom_x(963, 1271), [-0.1, 3.3], 0.5, 0.25, "y8", fmt=".1f", ticklabelstandoff=5),
    yaxis8=axis(dom_y(399, 645), [-0.1, 1.1], 0.2, 0.1, "x7", fmt=".1f", grid=True),
)

# inset axes
layout["xaxis5"] = dict(
    domain=dom_x(170, 356), range=[-0.016, 0.728], anchor="y6", tick0=0, dtick=0.2, tickformat=".1f",
    showline=True, linecolor="#444444", linewidth=1, mirror="allticks",
    ticks="inside", ticklen=3, tickwidth=1, tickcolor="#444444",
    minor=dict(dtick=0.1, tick0=0, ticks="inside", ticklen=2, tickwidth=1, tickcolor="#444444"),
    showgrid=False, zeroline=False, tickfont=dict(family=FONT, size=9, color="#333333"),
    ticklabelstandoff=6,
)
layout["yaxis6"] = dict(
    domain=dom_y(415, 566), type="log", range=[-1, 4], anchor="x5",
    tickmode="array", tickvals=[0.1, 1, 10, 100, 1000, 10000],
    ticktext=["10<sup>-1</sup>", "10<sup>0</sup>", "10<sup>1</sup>", "10<sup>2</sup>", "10<sup>3</sup>",
              "10<sup>4</sup>"],
    showline=True, linecolor="#444444", linewidth=1, mirror="allticks",
    ticks="inside", ticklen=3, tickwidth=1, tickcolor="#444444",
    minor=dict(ticks="inside", ticklen=2, tickwidth=0.8, tickcolor="#666666", dtick="D1"),
    showgrid=False, zeroline=False, tickfont=dict(family=FONT, size=9, color="#333333"),
)

fig.update_layout(**layout)


def add_text(txt, px, py, col="black", sz=TITLE_SIZE, bold=True, angle=0):
    f = dict(family=FONT, size=sz, color=col)
    if bold:
        f["weight"] = "bold"
    fig.add_annotation(text=txt, x=px / W, y=1 - py / H, xref="paper", yref="paper", textangle=angle,
                       showarrow=False, xanchor="center", yanchor="middle", font=f)


# y-axis titles (rotated)
add_text("P (min)", 23, 170, ORANGE, angle=-90)
add_text("S (μm/min)", 421, 166, GREEN, angle=-90)
add_text("Y (μm)", 475, 165, angle=-90)
add_text("V (μm/min)", 921, 164, angle=-90)
add_text("Count", 25, 523, angle=-90)
add_text("Count", 460, 520, angle=-90)
add_text("V (μm/min)", 920, 522, angle=-90)
add_text("Count", 138, 490, "#333333", 9.5, False, -90)

# x-axis titles
add_text("Time (min)", 219, 331)
add_text("X (μm)", 668, 332)
add_text("Time (min)", 1117, 332)
add_text("V<sup>2</sup> (μm/min)<sup>2</sup>", 220, 689)
add_text("Angle (rad)", 668, 686)
add_text("Angle (rad)", 1117, 687)
add_text("V<sup>2</sup> (μm/min)<sup>2</sup>", 262, 593, "#333333", 9.5, False)

# panel labels
for txt, px, py in [("(a)", 78, 22), ("(b)", 531, 22), ("(c)", 976, 22),
                    ("(d)", 78, 373), ("(e)", 531, 374), ("(f)", 977, 374)]:
    add_text(txt, px, py, sz=24)
add_text("x10<sup>3</sup>", 42, 390, sz=15)

# outer frame
fig.add_shape(type="rect", xref="paper", yref="paper", x0=5 / W, x1=1296 / W, y0=-0.02, y1=1 - 5 / H,
              line=dict(color="black", width=2.5), fillcolor="rgba(0,0,0,0)")

fig.write_html("out.html")
